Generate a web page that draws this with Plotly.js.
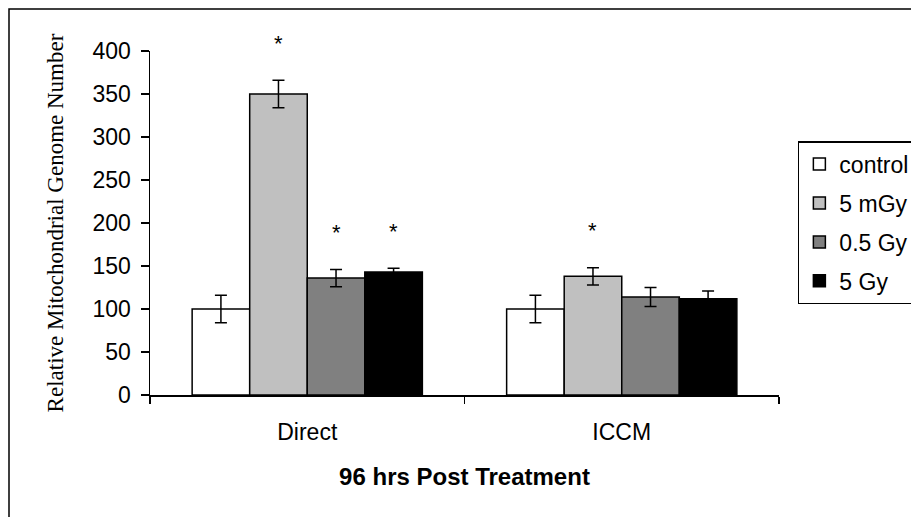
<!DOCTYPE html>
<html>
<head>
<meta charset="utf-8">
<script src="https://cdn.plot.ly/plotly-3.0.1.min.js"></script>
<style>html,body{margin:0;padding:0;background:#fff;}#chart{width:911px;height:517px;}</style>
</head>
<body>
<div id="chart"></div>
<script>
// Data
var categories = ['Direct', 'ICCM'];
var seriesNames = ['control', '5 mGy', '0.5 Gy', '5 Gy'];
var controlVals = [100, 100];
var mGy5Vals = [350, 138];
var Gy05Vals = [136, 114];
var Gy5Vals = [143, 112];
var controlErr = [16, 16];
var mGy5Err = [16, 10];
var Gy05Err = [10, 11];
var Gy5Err = [4.5, 9];
var controlStars = ['', ''];
var mGy5Stars = ['*', '*'];
var Gy05Stars = ['*', ''];
var Gy5Stars = ['*', ''];
var yTicks = [0, 50, 100, 150, 200, 250, 300, 350, 400];

var colors = ['#ffffff', '#c0c0c0', '#808080', '#000000'];
var vals = [controlVals, mGy5Vals, Gy05Vals, Gy5Vals];
var errs = [controlErr, mGy5Err, Gy05Err, Gy5Err];
var stars = [controlStars, mGy5Stars, Gy05Stars, Gy5Stars];

var margin = {l: 150, r: 132, t: 51, b: 122};
var bargap = 0.268;
var plotW = 911 - margin.l - margin.r;
var barW = plotW / categories.length * (1 - bargap) / seriesNames.length;

var traces = seriesNames.map(function (name, i) {
  return {
    type: 'bar',
    name: name,
    x: categories,
    y: vals[i],
    legendgroup: 'g' + i,
    marker: {color: colors[i], line: {color: '#000', width: 1.5}},
    error_y: {type: 'data', array: errs[i], visible: true, color: '#000', thickness: 1.5, width: 6}
  };
});

var annotations = [];
seriesNames.forEach(function (name, i) {
  categories.forEach(function (c, j) {
    if (stars[i][j]) {
      annotations.push({
        x: c, y: vals[i][j] + errs[i][j], xref: 'x', yref: 'y',
        text: stars[i][j], showarrow: false,
        xshift: (i - (seriesNames.length - 1) / 2) * barW,
        yshift: 37, yanchor: 'middle',
        font: {family: 'Liberation Sans, Arial, sans-serif', size: 22, color: '#000'}
      });
    }
  });
});

var layout = {
  width: 911, height: 517,
  margin: {l: margin.l, r: margin.r, t: margin.t, b: margin.b, pad: 0, autoexpand: false},
  paper_bgcolor: '#fff', plot_bgcolor: '#fff',
  barmode: 'group', bargap: bargap, bargroupgap: 0,
  font: {family: 'Liberation Sans, Arial, sans-serif', size: 23, color: '#000'},
  showlegend: true,
  legend: {
    x: 1.03, xanchor: 'left', y: 0.738, yanchor: 'top',
    bgcolor: '#fff', bordercolor: '#000', borderwidth: 1.5,
    font: {family: 'Liberation Sans, Arial, sans-serif', size: 23, color: '#000'},
    traceorder: 'grouped', tracegroupgap: 6
  },
  xaxis: {
    type: 'category',
    showline: true, linecolor: '#000', linewidth: 1.5,
    ticks: 'outside', tickson: 'boundaries', ticklen: 7, tickwidth: 1.5, tickcolor: '#000',
    showgrid: false, zeroline: false,
    tickfont: {size: 23}, ticklabelstandoff: 16,
    title: {text: '<b>96 hrs Post Treatment</b>', font: {family: 'Liberation Sans, Arial, sans-serif', size: 24}, standoff: 24}
  },
  yaxis: {
    range: [0, 400], tickvals: yTicks, ticktext: yTicks.map(String),
    showline: true, linecolor: '#000', linewidth: 1.5,
    ticks: 'outside', ticklen: 8, tickwidth: 1.5, tickcolor: '#000',
    showgrid: false, zeroline: false,
    tickfont: {size: 23}, ticklabelstandoff: 5,
    title: {text: 'Relative Mitochondrial Genome Number', font: {family: 'Liberation Serif, Times New Roman, serif', size: 23}, standoff: 22}
  },
  annotations: annotations,
  shapes: [{
    type: 'rect', xref: 'paper', yref: 'paper',
    x0: (9 - margin.l) / plotW, x1: 2,
    y0: -2, y1: (517 - margin.b - 9) / (517 - margin.t - margin.b),
    line: {color: '#000', width: 1.5}, fillcolor: 'rgba(0,0,0,0)', layer: 'below'
  }]
};

Plotly.newPlot('chart', traces, layout, {staticPlot: true, displayModeBar: false});
</script>
</body>
</html>
